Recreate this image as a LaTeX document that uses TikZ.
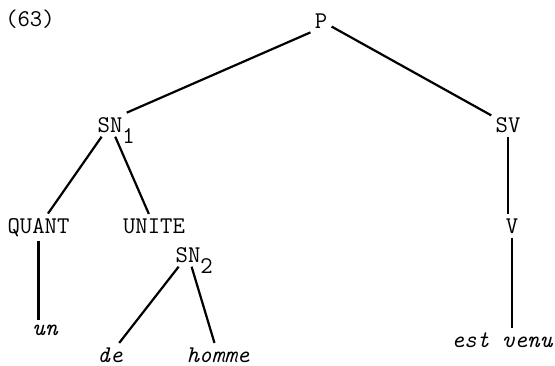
\documentclass[tikz,border=0pt]{standalone}
\usepackage{fontspec}
\usepackage{tikz}

\newcommand{\nsub}[1]{\rlap{\smash{\raisebox{-5.5pt}{#1}}}}
\tikzset{
  cat/.style={font=\ttfamily\fontsize{12}{14}\selectfont, inner sep=2pt, anchor=base},
  leaf/.style={cat, font=\ttfamily\itshape\fontsize{12}{14}\selectfont},
  branch/.style={line width=1.1pt}
}

\begin{document}
\begin{tikzpicture}[x=0.5pt,y=0.5pt,yscale=-1,xscale=1]
\useasboundingbox (0,0) rectangle (555,365);
%numero
\node (num) at (30,26) [cat] {(63)};
%categories
\node (P) at (321,28) [cat] {P};
\node (SN1) at (110,132) [cat] {SN\nsub{1}};
\node (SV) at (508,132) [cat] {SV};
\node (QUANT) at (38.5,233) [cat] {QUANT};
\node (UNITE) at (154,233) [cat] {UNITE};
\node (SN2) at (188,262) [cat] {SN\nsub{2}};
\node (V) at (512,233) [cat] {V};
%mots
\node (un) at (45,335) [leaf] {un};
\node (de) at (110,362) [leaf] {de};
\node (homme) at (218,362) [leaf] {homme};
\node (venu) at (502,347) [leaf] {est venu};
%branches
\draw [branch] (P.south west) -- (SN1.north east);
\draw [branch] (P) -- (SV);
\draw [branch] (SN1) -- (QUANT);
\draw [branch] (SN1) -- (UNITE);
\draw [branch] (QUANT) -- (QUANT |- un.north);
\draw [branch] (SN2) -- (de);
\draw [branch] (SN2) -- (homme);
\draw [branch] (SV) -- (SV |- V.north);
\draw [branch] (V) -- (V |- venu.north);
\end{tikzpicture}
\end{document}
